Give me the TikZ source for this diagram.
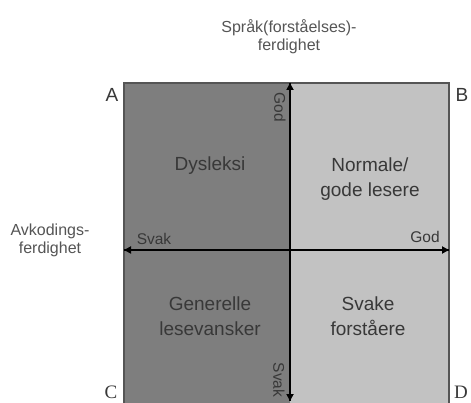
\documentclass[tikz,border=0pt]{standalone}
\usepackage{fontspec}
\setmainfont{Liberation Sans}
\newfontfamily\serifcd{Liberation Serif}
\usetikzlibrary{arrows.meta}
\definecolor{darkq}{HTML}{7E7E7E}
\definecolor{lightq}{HTML}{C2C2C2}
\definecolor{txt}{HTML}{383838}
\definecolor{ttl}{HTML}{555555}
\tikzset{
  quadtext/.style={text=txt,font=\fontsize{19}{24.5}\selectfont,align=center},
  axtext/.style={text=txt,font=\fontsize{15.5}{17}\selectfont,inner sep=0pt},
  ttltext/.style={text=ttl,font=\fontsize{16}{18}\selectfont,align=center},
  corner/.style={text=txt,font=\fontsize{19}{21}\selectfont,inner sep=0pt},
  axis/.style={line width=2pt,black,-{Triangle[length=7pt,width=7pt]}},
}
\begin{document}
\begin{tikzpicture}[x=1pt,y=-1pt]
\useasboundingbox (0,0) rectangle (471,403);
\clip (0,0) rectangle (471,403);
\fill[white] (0,0) rectangle (471,403);
% quadrants
\fill[darkq] (124,83) rectangle (290,430);
\fill[lightq] (290,83) rectangle (449,430);
\draw[ttl,line width=1.2pt] (124,83) rectangle (449,430);
% axis coordinates
\coordinate (vt) at (290,83);
\coordinate (vb) at (290,401);
\coordinate (hl) at (124,250);
\coordinate (hr) at (449,250);
\draw[axis] (vb) -- (vt);
\draw[axis] (vt) -- (vb);
\draw[axis] (hr) -- (hl);
\draw[axis] (hl) -- (hr);
% titles
\node[ttltext] (ttop) at (289,37) {Språk(forståelses)-\\ferdighet};
\node[ttltext] (tleft) at (50,240) {Avkodings-\\ferdighet};
% corners
\node[corner] (A) at (112,95) {A};
\node[corner] (B) at (462,95) {B};
\node[corner,font=\serifcd\fontsize{19}{21}\selectfont] (C) at (111,392) {C};
\node[corner,font=\serifcd\fontsize{19}{21}\selectfont] (D) at (461,392) {D};
% quadrant labels
\node[quadtext] (q1) at (210,166) {Dysleksi};
\node[quadtext] (q2) at (370,179) {Normale/\\gode lesere};
\node[quadtext] (q3) at (210,316) {Generelle\\lesevansker};
\node[quadtext] (q4) at (368,316) {Svake\\forståere};
% axis labels
\node[axtext,rotate=-90] (vg) at (280,107) {God};
\node[axtext,rotate=-90] (vs) at (279,380) {Svak};
\node[axtext] (hs) at (154,239) {Svak};
\node[axtext] (hg) at (425,237) {God};
\end{tikzpicture}
\end{document}
